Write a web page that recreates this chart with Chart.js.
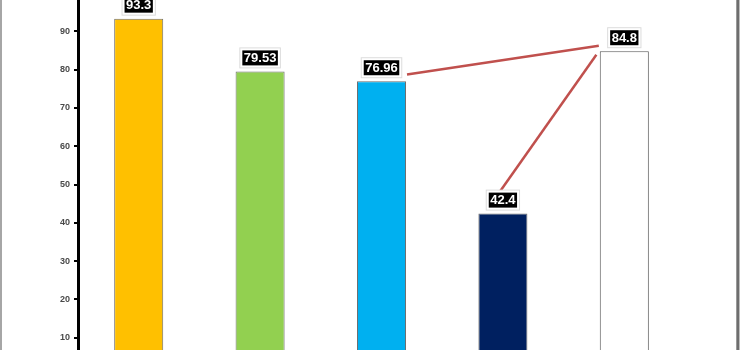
<!DOCTYPE html>
<html>
<head>
<meta charset="utf-8">
<script src="https://cdn.jsdelivr.net/npm/chart.js@4/dist/chart.umd.min.js"></script>
<style>
  html, body { margin: 0; padding: 0; background: #fff; }
  body { width: 740px; height: 350px; overflow: hidden; position: relative; }
  #chart { position: absolute; left: 0; top: -40px; }
  .edge { position: absolute; top: 0; height: 350px; }
</style>
</head>
<body>
<canvas id="chart" width="740" height="440"></canvas>
<div class="edge" style="left:0;width:2px;background:#a6a6a6"></div>
<div class="edge" style="left:736px;width:1px;background:#9a9a9a"></div>
<div class="edge" style="left:737px;width:2px;background:#6e6e6e"></div>
<div class="edge" style="left:739px;width:1px;background:#bdbdbd"></div>
<script>
const categories = ['1', '2', '3', '4', '5'];
const values = [93.3, 79.53, 76.96, 42.4, 84.8];
const barColors = ['#FFC000', '#92D050', '#00B0F0', '#002060', '#FFFFFF'];
const barEdges = ['#6f6f6f', '#6f6f6f', '#6f6f6f', '#6f6f6f', '#595959'];
const yTicks = [0, 10, 20, 30, 40, 50, 60, 70, 80, 90, 100];

// red connector lines (x = category position, y = value)
const linkA = [{x: 2.21, y: 78.7}, {x: 3.79, y: 86.2}];
const linkB = [{x: 3.77, y: 83.9}, {x: 2.97, y: 47.9}];

const valueLabels = {
  id: 'valueLabels',
  afterDatasetsDraw(chart) {
    const ctx = chart.ctx;
    const meta = chart.getDatasetMeta(0);
    ctx.save();
    ctx.font = 'bold 13px "Liberation Sans", Arial, sans-serif';
    ctx.textAlign = 'center';
    ctx.textBaseline = 'middle';
    meta.data.forEach((bar, i) => {
      const txt = String(values[i]);
      const w = ctx.measureText(txt).width + 3;
      const h = 15;
      const x = bar.x - w / 2;
      const y = bar.y - 6 - h;
      ctx.fillStyle = '#fff';
      ctx.strokeStyle = '#dcdcdc';
      ctx.lineWidth = 1;
      ctx.fillRect(x - 2.5, y - 2.5, w + 5, h + 5);
      ctx.strokeRect(x - 2.5, y - 2.5, w + 5, h + 5);
      ctx.fillStyle = '#000';
      ctx.fillRect(x, y, w, h);
      ctx.fillStyle = '#fff';
      ctx.fillText(txt, bar.x, y + h / 2 + 0.5);
    });
    ctx.restore();
  }
};

new Chart(document.getElementById('chart'), {
  type: 'bar',
  data: {
    labels: categories,
    datasets: [{
      data: values,
      backgroundColor: barColors,
      borderColor: barEdges,
      borderWidth: 1,
      grouped: false,
      barPercentage: 0.404,
      categoryPercentage: 1,
      order: 2
    }, {
      type: 'line',
      data: linkA,
      xAxisID: 'x2',
      borderColor: '#C0504D',
      borderWidth: 2.5,
      pointRadius: 0,
      order: 1
    }, {
      type: 'line',
      data: linkB,
      xAxisID: 'x2',
      borderColor: '#C0504D',
      borderWidth: 2.5,
      pointRadius: 0,
      order: 1
    }]
  },
  options: {
    responsive: false,
    animation: false,
    layout: { padding: { top: 33, bottom: 24, left: 0, right: 55 } },
    plugins: { legend: { display: false }, tooltip: { enabled: false } },
    scales: {
      x: { display: false },
      x2: { type: 'linear', display: false, offset: false, grid: { offset: false }, min: -0.5, max: 4.5 },
      y: {
        min: 0,
        max: 100,
        afterBuildTicks: (scale) => { scale.ticks = yTicks.map(v => ({ value: v })); },
        afterFit: (scale) => { scale.width = 78; },
        border: { display: true, color: '#000', width: 3 },
        grid: { drawOnChartArea: false, drawTicks: true, tickLength: 4, color: '#000', lineWidth: 2 },
        ticks: {
          padding: 4,
          color: '#4a4a4a',
          font: { family: '"Liberation Sans", Arial, sans-serif', size: 9, weight: 'bold' }
        }
      }
    }
  },
  plugins: [valueLabels]
});
</script>
</body>
</html>
